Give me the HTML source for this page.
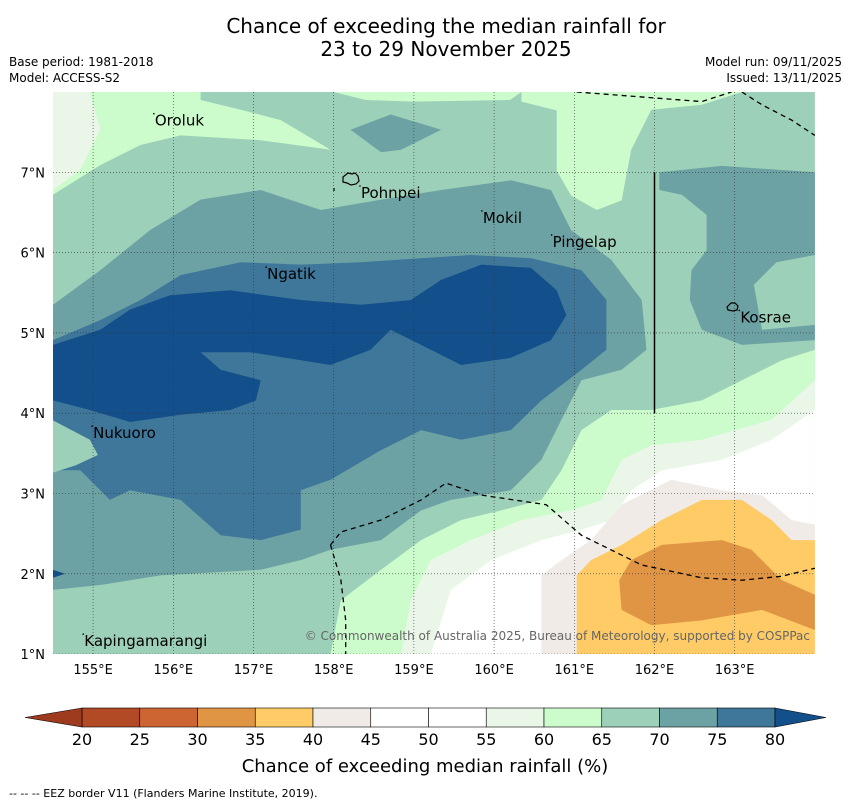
<!DOCTYPE html>
<html><head><meta charset="utf-8"><style>
body{margin:0;background:#fff;width:850px;height:804px;overflow:hidden;font-family:"Liberation Sans","DejaVu Sans",sans-serif}
svg text{font-family:"DejaVu Sans","Liberation Sans",sans-serif}
</style></head><body>
<svg id="chart" width="850" height="804" viewBox="0 0 850 804" xmlns="http://www.w3.org/2000/svg">
<text x="446" y="33" font-size="20" text-anchor="middle">Chance of exceeding the median rainfall for</text>
<text x="446" y="56" font-size="20" text-anchor="middle">23 to 29 November 2025</text>
<text x="9" y="66" font-size="12">Base period: 1981-2018</text>
<text x="9" y="82" font-size="12">Model: ACCESS-S2</text>
<text x="842" y="66" font-size="12" text-anchor="end">Model run: 09/11/2025</text>
<text x="842" y="82" font-size="12" text-anchor="end">Issued: 13/11/2025</text>
<defs><clipPath id="mapclip"><rect x="53" y="92" width="762" height="562"/></clipPath></defs>
<g id="map" clip-path="url(#mapclip)"></g>
<g id="axes"></g>
<g id="cbar"></g>
<text x="425" y="772" font-size="18" text-anchor="middle">Chance of exceeding median rainfall (%)</text>
<text x="9" y="797" font-size="11">--  --  -- EEZ border V11 (Flanders Marine Institute, 2019).</text>
</svg>
<script>
const lonTicks=[155,156,157,158,159,160,161,162,163];
const latTicks=[1,2,3,4,5,6,7];
const levels=[20,25,30,35,40,45,50,55,60,65,70,75,80];
const binColors=["#b34a26","#cd6533","#e09545","#fecb67","#f0ebe6","#ffffff","#ffffff","#eaf6e8","#ccfccc","#9dd0b8","#6da2a4","#3e7799"];
const underColor="#9e3b1f", overColor="#134f8a";
const regions=[
 [9,[[154.5,8],[164,8],[164,1],[154.5,1]]],
 [8,[[154.5,8],[156.34,8],[156.34,7.9],[156.84,7.78],[157.34,7.65],[157.96,7.28],[157.09,7.40],[156.09,7.46],[155.59,7.34],[155.09,7.09],[154.5,6.72]]],
 [7,[[154.5,8],[154.96,8],[155.09,7.53],[154.84,7.03],[154.5,6.78]]],
 [8,[[158.0,8],[160.34,8],[160.2,7.9],[159,7.88],[158.4,7.9]]],
 [8,[[160.34,8],[163.09,8],[162.59,7.84],[161.96,7.78],[161.71,7.28],[161.59,6.65],[161.28,6.53],[160.96,6.71],[160.78,7.02],[160.78,7.77],[160.34,7.88]]],
 [10,[[158.21,7.53],[158.71,7.72],[159.34,7.53],[158.84,7.28],[158.59,7.25]]],
 [10,[[154.5,5.35],[155.09,5.78],[155.71,6.28],[156.34,6.66],[157.09,6.78],[157.84,6.53],[158.59,6.66],[159.34,6.78],[160.21,6.90],[160.71,6.78],[160.96,6.28],[161.46,5.91],[161.84,5.41],[161.9,4.79],[161.59,4.54],[161.09,4.41],[160.84,3.92],[160.59,3.42],[160.21,3.04],[159.46,2.92],[159.09,2.79],[158.59,2.42],[157.96,2.30],[157.59,2.17],[157.09,2.05],[155.84,1.98],[155.09,1.86],[154.5,1.80]]],
 [11,[[154.5,4.91],[155.09,5.16],[155.59,5.41],[156.09,5.72],[156.84,5.88],[157.59,5.85],[158.34,5.88],[159.09,5.93],[159.71,5.97],[160.46,5.93],[161.09,5.78],[161.4,5.41],[161.4,4.79],[161.09,4.54],[160.59,4.16],[160.21,3.79],[159.59,3.67],[159.09,3.79],[158.59,3.54],[157.96,3.17],[157.59,3.04],[157.59,2.55],[157.09,2.42],[156.59,2.48],[156.09,2.92],[155.46,3.04],[155.21,2.92],[154.84,3.29],[154.5,3.29]]],
 [12,[[154.5,4.85],[155.09,5.04],[155.46,5.29],[155.96,5.47],[156.71,5.53],[157.59,5.41],[158.34,5.35],[158.96,5.41],[159.34,5.66],[159.84,5.85],[160.46,5.81],[160.78,5.53],[160.9,5.22],[160.71,4.91],[160.21,4.69],[159.59,4.60],[159.09,4.85],[158.71,5.04],[158.46,4.79],[157.96,4.60],[157.59,4.66],[156.96,4.76],[156.34,4.76],[156.59,4.54],[157.09,4.41],[157.03,4.16],[156.71,4.04],[156.09,3.98],[155.46,3.89],[154.96,4.04],[154.5,4.16]]],
 [9,[[154.5,3.91],[154.96,3.67],[155.06,3.48],[154.78,3.35],[154.5,3.26]]],
 [12,[[154.5,2.05],[154.65,2.0],[154.5,1.95]]],
 [10,[[162.06,7.0],[162.84,7.08],[164,7.0],[164,4.91],[163.09,4.85],[162.59,5.04],[162.44,5.41],[162.46,5.78],[162.65,6.03],[162.65,6.47],[162.34,6.72],[162.06,6.78]]],
 [9,[[164,5.97],[163.52,5.88],[163.24,5.6],[163.34,5.04],[164,5.10]]],
 [8,[[164,4.79],[163.59,4.66],[163.09,4.41],[162.59,4.16],[161.96,4.04],[161.46,4.04],[161.09,3.79],[160.84,3.29],[160.59,2.92],[160.09,2.79],[159.59,2.67],[159.09,2.42],[158.59,2.05],[158.09,1.67],[157.96,1.0],[164,1.0]]],
 [7,[[164,4.41],[163.46,3.92],[162.59,3.67],[161.96,3.60],[161.59,3.42],[161.34,2.92],[160.96,2.79],[160.34,2.67],[159.71,2.42],[159.21,2.17],[158.96,1.67],[158.84,1.0],[164,1.0]]],
 [5,[[164,4.04],[163.46,3.67],[162.84,3.42],[162.09,3.29],[161.71,3.04],[161.46,2.67],[161.09,2.55],[160.59,2.42],[159.96,2.17],[159.46,1.80],[159.21,1.0],[164,1.0]]],
 [4,[[164,2.61],[163.71,2.67],[163.34,2.98],[162.84,3.04],[162.21,3.17],[161.59,2.86],[161.21,2.42],[160.84,2.17],[160.59,1.98],[160.59,1.0],[164,1.0]]],
 [3,[[164,2.42],[163.71,2.42],[163.46,2.67],[163.09,2.92],[162.59,2.92],[162.09,2.67],[161.59,2.36],[161.21,2.17],[161.03,1.98],[161.03,1.0],[164,1.0]]],
 [2,[[164,1.74],[163.59,1.92],[163.21,2.30],[162.84,2.42],[162.09,2.36],[161.71,2.17],[161.56,1.92],[161.59,1.55],[161.96,1.36],[162.59,1.42],[163.34,1.55],[164,1.30]]]
];
const eezLines=[
 [[161.03,8],[162.59,7.88],[162.96,8]],
 [[163.09,8],[163.34,7.84],[163.71,7.65],[164,7.46]],
 [[157.96,2.36],[158.09,2.52],[158.59,2.67],[159.09,2.92],[159.4,3.13],[159.84,2.98],[160.65,2.86],[161.09,2.48],[161.84,2.11],[162.59,1.95],[163.09,1.92],[163.59,1.97],[164,2.07]],
 [[157.96,2.36],[158.09,1.92],[158.15,1.42],[158.15,1.0]]
];
const places=["Oroluk","Pohnpei","Mokil","Pingelap","Ngatik","Kosrae","Nukuoro","Kapingamarangi"];
const placeLon=[155.77,158.34,159.86,160.73,157.17,163.07,155.0,154.89];
const placeLat=[7.58,6.68,6.37,6.07,5.67,5.13,3.69,1.1];

const NS="http://www.w3.org/2000/svg";
const X=lon=>53+(lon-154.5)*80.2;
const Y=lat=>92+(8-lat)*80.3;
function mk(tag,attrs,parent){const e=document.createElementNS(NS,tag);for(const k in attrs)e.setAttribute(k,attrs[k]);parent.appendChild(e);return e;}
const map=document.getElementById('map'),axes=document.getElementById('axes'),cb=document.getElementById('cbar');
regions.forEach((r,i)=>{
 const p=mk('polygon',{points:r[1].map(q=>X(q[0]).toFixed(1)+','+Y(q[1]).toFixed(1)).join(' '),fill:r[0]===12?overColor:binColors[r[0]]},map);
 
 
});
lonTicks.forEach(l=>{
 const g=mk('line',{x1:X(l),x2:X(l),y1:92,y2:654,stroke:'#333','stroke-width':0.6,'stroke-dasharray':'1,2'},map);
 
 
 const t=mk('text',{x:X(l),y:674,'font-size':13,'text-anchor':'middle'},axes);t.textContent=l+'°E';
 
 
});
latTicks.forEach(l=>{
 const g=mk('line',{x1:53,x2:815,y1:Y(l),y2:Y(l),stroke:'#333','stroke-width':0.6,'stroke-dasharray':'1,2'},map);
 
 
 const t=mk('text',{x:45,y:Y(l)+5,'font-size':13,'text-anchor':'end'},axes);t.textContent=l+'°N';
 
 
});
const sl=mk('line',{x1:X(162),x2:X(162),y1:Y(7),y2:Y(4),stroke:'#000','stroke-width':1.5},map);


eezLines.forEach(l=>{
 const e=mk('polyline',{points:l.map(q=>X(q[0]).toFixed(1)+','+Y(q[1]).toFixed(1)).join(' '),fill:'none',stroke:'#000','stroke-width':1.3,'stroke-dasharray':'5,4'},map);
 
 
});
const pi=mk('path',{d:'M343,177 l5,-4 4,1 3,-1 3,3 1,5 -3,3 -5,1 -4,-2 -4,-1z M334,188 l0,3',fill:'none',stroke:'#000','stroke-width':1.2},map);


const ki=mk('path',{d:'M727,307 l4,-4 4,0 3,3 -1,4 -4,1 -5,-1z',fill:'none',stroke:'#000','stroke-width':1.2},map);


places.forEach((n,i)=>{
 const d=mk('circle',{cx:X(placeLon[i])-1,cy:Y(placeLat[i])-12,r:0.8,fill:'#000'},map);
 
 
 const t=mk('text',{x:X(placeLon[i]),y:Y(placeLat[i]),'font-size':15},map);t.textContent=n;
 
 
});
const cr=mk('text',{x:810,y:640,'font-size':12,'text-anchor':'end',fill:'#666'},map);cr.textContent='© Commonwealth of Australia 2025, Bureau of Meteorology, supported by COSPPac';


const C=v=>82+(v-20)*(693/60);
const cy0=708,cy1=727;
for(let i=0;i<binColors.length;i++){
 const r=mk('rect',{x:C(levels[i]),y:cy0,width:C(levels[i+1])-C(levels[i]),height:cy1-cy0,fill:binColors[i],stroke:'#000','stroke-width':0.6},cb);
 
 
}
const tl=mk('polygon',{points:`${C(20)},${cy0} 25,${(cy0+cy1)/2} ${C(20)},${cy1}`,fill:underColor,stroke:'#000','stroke-width':0.6},cb);


const tr=mk('polygon',{points:`${C(80)},${cy0} 826,${(cy0+cy1)/2} ${C(80)},${cy1}`,fill:overColor,stroke:'#000','stroke-width':0.6},cb);


levels.forEach(v=>{
 const t=mk('text',{x:C(v),y:745,'font-size':16,'text-anchor':'middle'},cb);t.textContent=v;
 
 
});
</script>
</body></html>
